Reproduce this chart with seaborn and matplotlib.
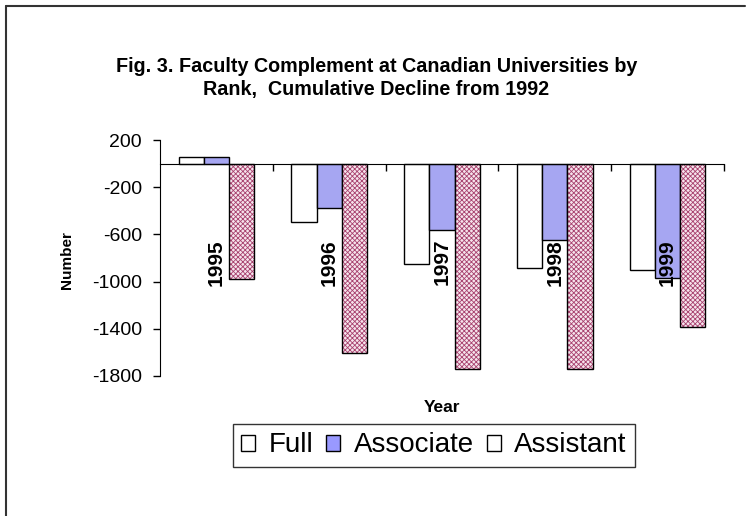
import pandas as pd
import matplotlib.pyplot as plt
import seaborn as sns
from matplotlib.patches import Patch, Rectangle
from matplotlib.lines import Line2D

years = ["1995", "1996", "1997", "1998", "1999"]
ranks = ["Full", "Associate", "Assistant"]
full = [60, -495, -853, -884, -898]
associate = [60, -373, -563, -651, -966]
assistant = [-975, -1610, -1745, -1745, -1389]
yticks = [200, -200, -600, -1000, -1400, -1800]

sns.set_style("white")
plt.rcParams["font.family"] = ["Liberation Sans", "DejaVu Sans"]
plt.rcParams["text.color"] = "black"
plt.rcParams["ytick.color"] = "black"
plt.rcParams["xtick.color"] = "black"
plt.rcParams["hatch.linewidth"] = 0.6

df = pd.DataFrame({
    "Year": years * 3,
    "Number": full + associate + assistant,
    "Rank": [r for r in ranks for _ in years],
})

fig = plt.figure(figsize=(7.53, 5.16), dpi=100)
ax = fig.add_axes([0.2125, 0.272, 0.749, 0.456])

colors = {"Full": "white", "Associate": "#9999FF", "Assistant": "white"}
sns.barplot(data=df, x="Year", y="Number", hue="Rank", hue_order=ranks,
            palette=colors, edgecolor="black", linewidth=1.0,
            width=0.67, gap=0, legend=False, ax=ax)

# hatched Assistant bars, with a black outline on top
for bar in ax.containers[2]:
    bar.set_facecolor("#f6e4ec")
    bar.set_hatch("xxxxxxx")
    bar.set_edgecolor("#a8426f")
    bar.set_linewidth(0)
    ax.add_patch(Rectangle((bar.get_x(), bar.get_y()), bar.get_width(), bar.get_height(),
                           fill=False, edgecolor="black", linewidth=1.0, zorder=3))

ax.set_ylim(-1800, 200)
ax.set_xlim(-0.5, len(years) - 0.5)
ax.set_yticks(yticks)
ax.set_yticklabels([str(t) for t in yticks], fontsize=14)
ax.tick_params(axis="y", direction="out", length=5, width=1, left=True, pad=8)

ax.spines["top"].set_visible(False)
ax.spines["right"].set_visible(False)
ax.spines["bottom"].set_position(("data", 0))
ax.spines["left"].set_color("black")
ax.spines["bottom"].set_color("black")
ax.set_xticks([i + 0.5 for i in range(len(years))])
ax.set_xticklabels([])
ax.tick_params(axis="x", direction="out", length=5, width=1, bottom=True)
ax.set_xlabel("")
ax.set_ylabel("")

for i, y in enumerate(years):
    ax.text(i, -836, y, rotation=90, ha="center", va="center",
            fontsize=15, fontweight="bold", zorder=5)

fig.text(0.5, 1 - 78 / 516, "Fig. 3. Faculty Complement at Canadian Universities by\nRank,  Cumulative Decline from 1992",
         ha="center", va="center", fontsize=14.2, fontweight="bold", linespacing=1.3)
fig.text(442 / 753, 1 - 407 / 516, "Year", ha="center", va="center", fontsize=12.5, fontweight="bold")
fig.text(67 / 753, 1 - 260 / 516, "Number", ha="center", va="center", rotation=90,
         fontsize=11, fontweight="bold")

handles = [Patch(facecolor=colors[r], edgecolor="black", linewidth=1) for r in ranks]
fig.legend(handles, ranks, loc="center", bbox_to_anchor=(434 / 753, 1 - 445.5 / 516), ncol=3,
           fontsize=20, frameon=True, fancybox=False, edgecolor="black",
           handlelength=0.5, handleheight=0.5, handletextpad=0.5, columnspacing=0.45,
           borderpad=0.3, borderaxespad=0).get_frame().set_linewidth(1)

# outer chart border (left and top edges)
fig.add_artist(Line2D([6 / 753, 6 / 753], [0, 1 - 6 / 516], color="#333333", linewidth=1.5))
fig.add_artist(Line2D([6 / 753, 745 / 753], [1 - 6 / 516, 1 - 6 / 516], color="#333333", linewidth=1.5))

fig.savefig("out.png", dpi=100)
